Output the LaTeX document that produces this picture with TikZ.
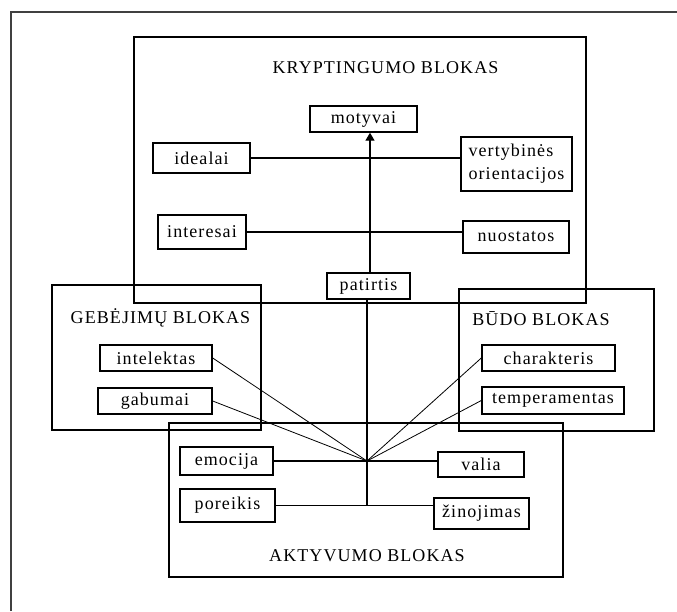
\documentclass[tikz,border=0pt]{standalone}
\usepackage{fontspec}
\setmainfont{Liberation Serif}[LetterSpace=6]
\usetikzlibrary{arrows.meta}
\begin{document}
\begin{tikzpicture}[x=1pt,y=-1pt,
  font=\fontsize{18}{23}\selectfont,
  block/.style={draw,line width=1.4pt,inner sep=0pt,anchor=center},
  item/.style={draw,line width=1.4pt,inner sep=0pt,anchor=center,align=center},
  title/.style={inner sep=0pt,anchor=center},
  link/.style={line width=1.3pt},
  fan/.style={line width=0.8pt},
  frame/.style={draw=black!75,line width=2pt}]
  \useasboundingbox (0,0) rectangle (677,611);
  % outer frame
  \draw[frame] (11,611) -- (11,12) -- (677,12);

  % the four blocks
  \node[block,minimum width=452pt,minimum height=266pt] (kb) at (360,170) {};
  \node[block,minimum width=209pt,minimum height=145pt] (gb) at (156.5,357.5) {};
  \node[block,minimum width=195pt,minimum height=142pt] (bb) at (556.5,360) {};
  \node[block,minimum width=394pt,minimum height=154pt] (ab) at (366,500) {};

  % block titles
  \node[title] (kt) at (385.5,68) {KRYPTINGUMO BLOKAS};
  \node[title] (gt) at (160.5,318) {GEBĖJIMŲ BLOKAS};
  \node[title] (bt) at (541,319) {BŪDO BLOKAS};
  \node[title] (at) at (367,556) {AKTYVUMO BLOKAS};

  % items
  \node[item,minimum width=107pt,minimum height=26pt] (motyvai) at (363.5,119) {motyvai};
  \node[item,minimum width=97pt,minimum height=30pt] (idealai) at (201.5,158) {idealai};
  \node[item,minimum width=111pt,minimum height=54pt,align=left] (vert) at (516.5,164) {vertybinės\\orientacijos};
  \node[item,minimum width=88pt,minimum height=34pt] (inter) at (202,232) {interesai};
  \node[item,minimum width=106pt,minimum height=32pt] (nuost) at (516,237) {nuostatos};
  \node[item,minimum width=83pt,minimum height=26pt] (patirtis) at (368.5,286) {patirtis};
  \node[item,minimum width=112pt,minimum height=26pt] (intel) at (156,358) {intelektas};
  \node[item,minimum width=114pt,minimum height=26pt] (gab) at (155,401) {gabumai};
  \node[item,minimum width=133pt,minimum height=26pt] (char) at (548.5,358) {charakteris};
  \node[item,minimum width=142pt,minimum height=27pt] (temp) at (553,400.5) {temperamentas};
  \node[item,minimum width=93pt,minimum height=28pt] (emoc) at (226.5,461) {emocija};
  \node[item,minimum width=86pt,minimum height=25pt] (valia) at (481,464.5) {valia};
  \node[item,minimum width=95pt,minimum height=33pt] (por) at (227.5,505.5) {poreikis};
  \node[item,minimum width=95pt,minimum height=31pt] (zin) at (481.5,513.5) {žinojimas};

  % junction points
  \coordinate (hub) at (367,461);
  \coordinate (bot) at (367,505);
  \coordinate (ptop) at (370,273);

  % connectors
  \draw[link] (idealai.east) -- (idealai.east -| vert.west);
  \draw[link] (inter.east) -- (inter.east -| nuost.west);
  \draw[link,-{Triangle[length=8pt,width=9pt]}] (ptop) -- (ptop |- motyvai.south);
  \draw[link] (patirtis.south -| hub) -- (bot);
  \draw[link] (emoc.east) -- (emoc.east -| valia.west);
  \draw[link] (por.east) -- (por.east -| zin.west);
  \draw[fan] (hub) -- (intel.east);
  \draw[fan] (hub) -- (gab.east);
  \draw[fan] (hub) -- (char.west);
  \draw[fan] (hub) -- (temp.west);
  \fill (hub) circle (1.6pt);
\end{tikzpicture}
\end{document}
